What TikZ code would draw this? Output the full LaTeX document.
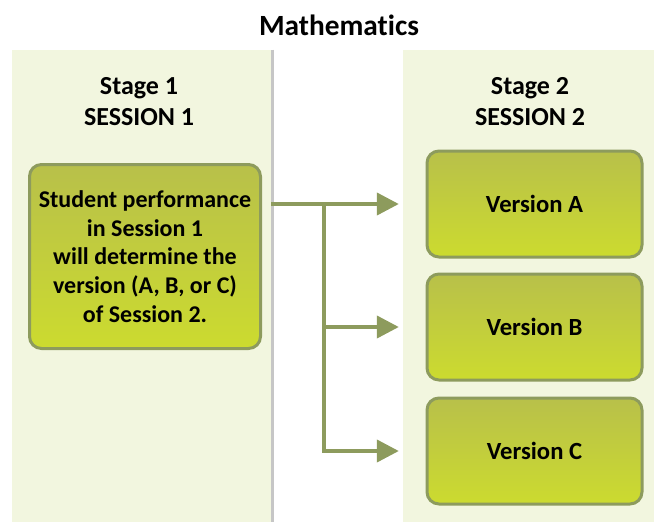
\documentclass[tikz,border=0pt]{standalone}
\usepackage{fontspec}
\setmainfont[Ligatures=NoCommon]{Carlito}
\usepackage{tikz}
\usetikzlibrary{positioning,arrows.meta}
\tikzset{>=latex}
\usepackage{xcolor}
\definecolor{panelfill}{HTML}{F2F6DF}
\definecolor{boxline}{HTML}{8D9B5D}
\definecolor{boxtop}{HTML}{B8C04A}
\definecolor{boxbot}{HTML}{CCDB2F}
\definecolor{shadowgray}{HTML}{C6C6C6}
\tikzstyle{panel}=[fill=panelfill,draw=none,inner sep=0pt]
\tikzstyle{heading}=[font=\bfseries\fontsize{19.5}{23.25}\selectfont,align=center]
\tikzstyle{vbox}=[draw=boxline,line width=2.25pt,rounded corners=9pt,
  top color=boxtop,bottom color=boxbot,align=center,inner sep=0pt,
  font=\bfseries\fontsize{18}{21.5}\selectfont]
\tikzstyle{flow}=[boxline,line width=3pt,-{Triangle[length=16.5pt,width=16.5pt]},
  shorten >=20pt]
\def\bw{161.25pt}
\def\bh{79.5pt}

\begin{document}
\begin{tikzpicture}[x=0.75pt,y=-0.75pt]
  \useasboundingbox (0,0) rectangle (654,522);

  % PANELS
  \node[panel,minimum width=194.25pt,minimum height=354pt] (p1) at (141.5,286) {};
  \node[panel,minimum width=188.25pt,minimum height=354pt] (p2) at (528.5,286) {};
  \draw[shadowgray,line width=2.25pt]
    ([xshift=1.1pt]p1.north east) -- ([xshift=1.1pt]p1.south east);

  % HEADINGS
  \node[heading,font=\bfseries\fontsize{22}{26}\selectfont] (title) at (339,25) {Mathematics};
  \node[heading] (h1) at (139,102) {Stage 1\\SESSION 1};
  \node[heading] (h2) at (530,102) {Stage 2\\SESSION 2};

  % BOXES
  \node[vbox,minimum width=173.25pt,minimum height=138pt] (s1) at (145,256.5)
    {Student performance\\in Session 1\\will determine the\\version (A, B, or C)\\of Session 2.};
  \node[vbox,minimum width=\bw,minimum height=\bh,font=\bfseries\fontsize{18.5}{22}\selectfont]
    (vA) at (534.5,204) {Version A};
  \node[vbox,minimum width=\bw,minimum height=\bh,font=\bfseries\fontsize{18.5}{22}\selectfont]
    (vB) at (534.5,327) {Version B};
  \node[vbox,minimum width=\bw,minimum height=\bh,font=\bfseries\fontsize{18.5}{22}\selectfont]
    (vC) at (534.5,451) {Version C};

  % ARROWS
  \coordinate (split) at (324,204);
  \draw[flow] (p1.east |- vA) -- (vA);
  \draw[flow] (split) |- (vB);
  \draw[flow] (split) |- (vC);

\end{tikzpicture}
\end{document}
